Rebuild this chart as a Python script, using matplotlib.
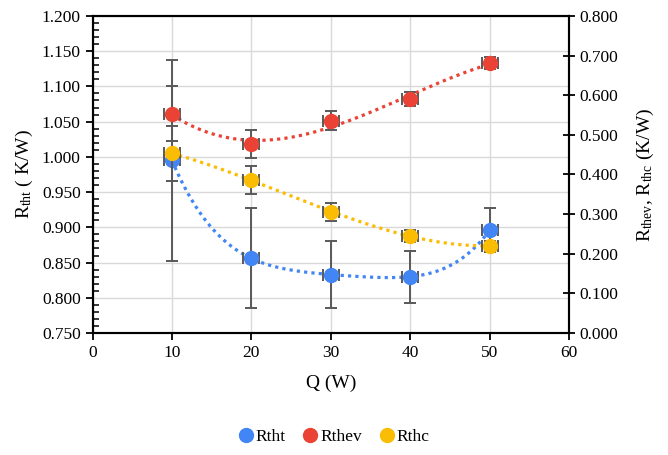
import matplotlib
matplotlib.use('Agg')
import matplotlib.pyplot as plt
from matplotlib.lines import Line2D
from matplotlib.ticker import MultipleLocator, FormatStrFormatter
import numpy as np

# data
q = [10, 20, 30, 40, 50]
q_err = [1, 1, 1, 1, 1]
rtht = [0.995, 0.856, 0.833, 0.830, 0.896]
rtht_err = [0.143, 0.071, 0.048, 0.037, 0.031]
rthev = [0.553, 0.476, 0.535, 0.590, 0.681]
rthev_err = [0.069, 0.035, 0.024, 0.018, 0.015]
rthc = [0.453, 0.386, 0.306, 0.245, 0.220]
rthc_err = [0.069, 0.035, 0.023, 0.015, 0.013]

BLUE = '#4285F4'
RED = '#EA4335'
YELLOW = '#FBBC04'
ERR = '#595959'

plt.rcParams['font.family'] = 'Liberation Serif'
plt.rcParams['mathtext.fontset'] = 'custom'
plt.rcParams['mathtext.rm'] = 'Liberation Serif'
plt.rcParams['mathtext.it'] = 'Liberation Serif:italic'

fig = plt.figure(figsize=(6.68, 4.55), dpi=100)
ax = fig.add_axes([0.1385, 0.268, 0.7135, 0.697])
ax2 = ax.twinx()


def trend(axis, y, color, order):
    # polynomial trendline through the series, like Excel
    coef = np.polyfit(q, y, order)
    xs = np.linspace(min(q), max(q), 200)
    axis.plot(xs, np.polyval(coef, xs), color=color, lw=2.3,
              linestyle=(0, (1, 1.3)), zorder=2)


def points(axis, y, yerr, color):
    axis.errorbar(q, y, yerr=yerr, xerr=q_err, fmt='none', ecolor=ERR,
                  elinewidth=1.4, capsize=4, capthick=1.4, zorder=3)
    axis.plot(q, y, 'o', color=color, markersize=10, zorder=4)


trend(ax, rtht, BLUE, 4)
points(ax, rtht, rtht_err, BLUE)
trend(ax2, rthev, RED, 3)
trend(ax2, rthc, YELLOW, 3)
points(ax2, rthev, rthev_err, RED)
points(ax2, rthc, rthc_err, YELLOW)

ax.set_xlim(0, 60)
ax.set_ylim(0.75, 1.2)
ax2.set_ylim(0, 0.8)
ax.xaxis.set_major_locator(MultipleLocator(10))
ax.yaxis.set_major_locator(MultipleLocator(0.05))
ax.yaxis.set_minor_locator(MultipleLocator(0.01))
ax.yaxis.set_major_formatter(FormatStrFormatter('%.3f'))
ax2.yaxis.set_major_locator(MultipleLocator(0.1))
ax2.yaxis.set_major_formatter(FormatStrFormatter('%.3f'))

ax.grid(True, which='major', color='#d9d9d9', lw=1)
ax.set_axisbelow(True)

for a in (ax, ax2):
    for s in a.spines.values():
        s.set_linewidth(1.5)
        s.set_color('black')

ax.tick_params(axis='both', which='major', labelsize=12.5, direction='out',
               length=5, width=1.3)
ax.tick_params(axis='y', which='minor', direction='in', length=4, width=1.1)
ax2.tick_params(axis='y', which='major', labelsize=12.5, direction='inout',
                length=8, width=1.3)

ax.set_xlabel('Q (W)', fontsize=14, labelpad=10)
ax.set_ylabel(r'R$_{\mathrm{tht}}$ ( K/W)', fontsize=14, labelpad=5)
ax2.set_ylabel(r'R$_{\mathrm{thev}}$, R$_{\mathrm{thc}}$ (K/W)', fontsize=14,
               labelpad=12)

handles = [Line2D([], [], marker='o', ls='none', color=c, markersize=10)
           for c in (BLUE, RED, YELLOW)]
fig.legend(handles, ['Rtht', 'Rthev', 'Rthc'], loc='center',
           bbox_to_anchor=(0.498, 0.04), ncol=3, frameon=False, fontsize=12.5,
           handletextpad=0.0, columnspacing=0.9, handlelength=1.1)

fig.savefig('out.png', dpi=100)
